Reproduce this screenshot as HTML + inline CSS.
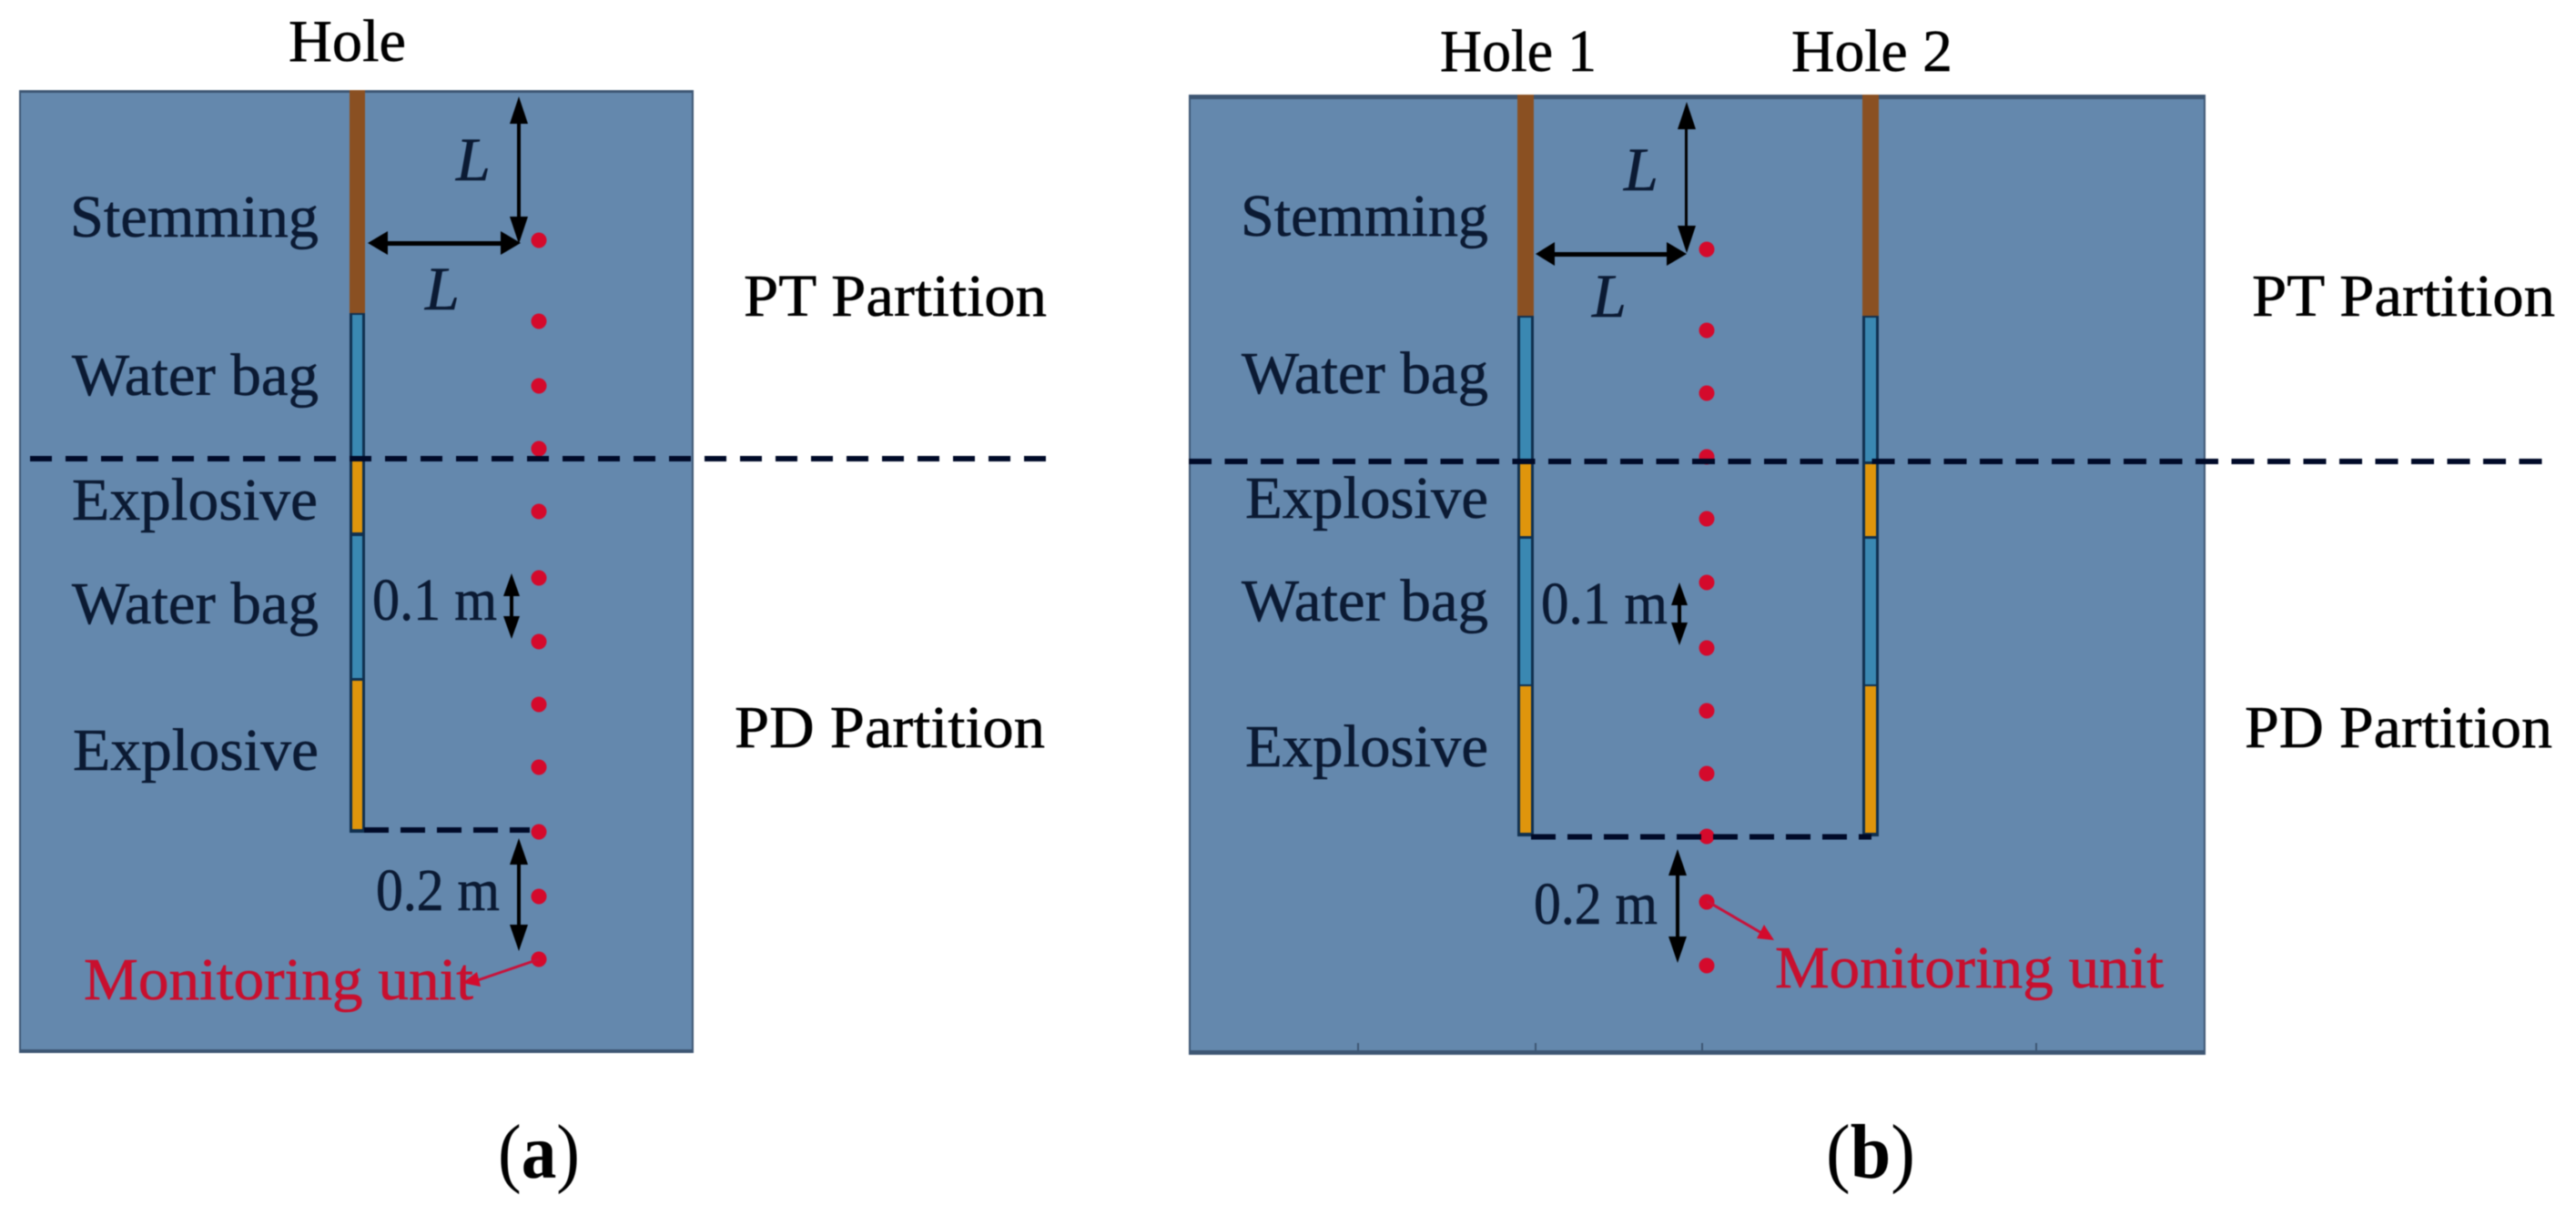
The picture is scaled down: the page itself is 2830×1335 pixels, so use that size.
<!DOCTYPE html>
<html><head><meta charset="utf-8"><style>html,body{margin:0;padding:0;background:#fff}svg{display:block;filter:blur(.6px)}
text{font-family:"Liberation Serif",serif;font-size:66px;fill:#0b1a33;stroke:#0b1a33;stroke-width:.6}
.k{fill:#000;stroke:#000}.r{fill:#c80f2e;stroke:#c80f2e}.i{font-style:italic;font-size:68px}.h{font-size:85px;fill:#000;stroke:none}</style></head><body>
<svg width="2830" height="1335" viewBox="0 0 2830 1335" xmlns="http://www.w3.org/2000/svg">
<!-- panel a -->
<rect x="21" y="99" width="741" height="1058" fill="#6488ad"/>
<rect x="21" y="99" width="741" height="3" fill="#3d5673"/>
<rect x="21" y="99" width="2" height="1058" fill="#3d5673"/>
<rect x="760" y="99" width="2" height="1058" fill="#3d5673"/>
<rect x="21" y="1153" width="741" height="4" fill="#3d5673"/>
<g>
<rect x="384" y="99" width="17" height="816" fill="#10304f"/>
<rect x="384" y="99" width="17" height="245" fill="#8a5022"/>
<rect x="387" y="346" width="11" height="159" fill="#3a88b2"/>
<rect x="387" y="507" width="11" height="78" fill="#df950c"/>
<rect x="387" y="589" width="11" height="156" fill="#3a88b2"/>
<rect x="387" y="748" width="11" height="163" fill="#df950c"/>
</g>
<!-- panel b -->
<rect x="1306" y="104" width="1117" height="1055" fill="#6488ad"/>
<rect x="1306" y="104" width="1117" height="5" fill="#3d5673"/>
<rect x="1306" y="104" width="2" height="1055" fill="#3d5673"/>
<rect x="2421" y="104" width="2" height="1055" fill="#3d5673"/>
<rect x="1306" y="1154" width="1117" height="5" fill="#3d5673"/>
<g stroke="#3d5673" stroke-width="2"><path d="M1492 1146V1155M1687 1146V1155M1870 1146V1155M2237 1146V1155"/></g>
<g>
<rect x="1667" y="104" width="18" height="815" fill="#10304f"/>
<rect x="1667" y="104" width="18" height="243" fill="#8a5022"/>
<rect x="1670" y="349" width="12" height="158" fill="#3a88b2"/>
<rect x="1670" y="510" width="12" height="79" fill="#df950c"/>
<rect x="1670" y="592" width="12" height="160" fill="#3a88b2"/>
<rect x="1670" y="754" width="12" height="161" fill="#df950c"/>
</g>
<g>
<rect x="2046" y="104" width="18" height="815" fill="#10304f"/>
<rect x="2046" y="104" width="18" height="243" fill="#8a5022"/>
<rect x="2049" y="349" width="12" height="158" fill="#3a88b2"/>
<rect x="2049" y="510" width="12" height="79" fill="#df950c"/>
<rect x="2049" y="592" width="12" height="160" fill="#3a88b2"/>
<rect x="2049" y="754" width="12" height="161" fill="#df950c"/>
</g>
<!-- dots -->
<g fill="#d40a2c">
<circle cx="592" cy="264" r="8.5"/><circle cx="592" cy="353" r="8.5"/><circle cx="592" cy="424" r="8.5"/><circle cx="592" cy="493" r="8.5"/><circle cx="592" cy="562" r="8.5"/><circle cx="592" cy="635" r="8.5"/><circle cx="592" cy="705" r="8.5"/><circle cx="592" cy="774" r="8.5"/><circle cx="592" cy="843" r="8.5"/><circle cx="592" cy="914" r="8.5"/><circle cx="592" cy="985" r="8.5"/><circle cx="592" cy="1054" r="8.5"/>
<circle cx="1875" cy="274" r="8.5"/><circle cx="1875" cy="363" r="8.5"/><circle cx="1875" cy="432" r="8.5"/><circle cx="1875" cy="502" r="8.5"/><circle cx="1875" cy="570" r="8.5"/><circle cx="1875" cy="640" r="8.5"/><circle cx="1875" cy="712" r="8.5"/><circle cx="1875" cy="781" r="8.5"/><circle cx="1875" cy="850" r="8.5"/><circle cx="1875" cy="919" r="8.5"/><circle cx="1875" cy="991" r="8.5"/><circle cx="1875" cy="1061" r="8.5"/>
</g>
<!-- dashed -->
<g stroke="#000a28" stroke-width="6" fill="none" stroke-dasharray="24 15">
<path d="M33 504H1158"/>
<path d="M400 912H582" stroke-dasharray="27 13"/>
<path d="M1306 507H2804" stroke-dasharray="25 14.5"/>
<path d="M1682 919.5H2056" stroke-dasharray="27 13"/>
</g>
<!-- arrows -->
<g fill="#000" stroke="none">
<rect x="568" y="130" width="4" height="120"/><path d="M570 106L560 136L580 136Z"/><path d="M570 268L560 238L580 238Z"/>
<rect x="425" y="265" width="130" height="5"/><path d="M404 267L426 254L426 280Z"/><path d="M572 267L550 254L550 280Z"/>
<rect x="560" y="650" width="4" height="35"/><path d="M562 630L553 655L571 655Z"/><path d="M562 702L553 677L571 677Z"/>
<rect x="568" y="940" width="4" height="90"/><path d="M570 921L560 950L580 950Z"/><path d="M570 1045L560 1016L580 1016Z"/>
<rect x="1851" y="135" width="3" height="125"/><path d="M1853 112L1843 142L1863 142Z"/><path d="M1853 278L1843 248L1863 248Z"/>
<rect x="1705" y="277" width="130" height="5"/><path d="M1687 279L1708 266L1708 292Z"/><path d="M1853 279L1831 266L1831 292Z"/>
<rect x="1843" y="660" width="4" height="30"/><path d="M1845 640L1836 665L1854 665Z"/><path d="M1845 709L1836 684L1854 684Z"/>
<rect x="1841" y="950" width="4" height="90"/><path d="M1843 933L1833 962L1853 962Z"/><path d="M1843 1058L1833 1029L1853 1029Z"/>
</g>
<!-- red arrows -->
<g stroke="#c8123a" stroke-width="3" fill="#d40a2c">
<path d="M592 1054L522 1078"/><path d="M508 1080L524 1068L528 1084Z" stroke="none"/>
<path d="M1875 990L1935 1025"/><path d="M1949 1033L1930 1031L1938 1016Z" stroke="none"/>
</g>
<!-- text a -->
<text class="k" x="317" y="67" textLength="129" lengthAdjust="spacingAndGlyphs">Hole</text>
<text x="77" y="260" textLength="273" lengthAdjust="spacingAndGlyphs">Stemming</text>
<text x="79" y="434" textLength="271" lengthAdjust="spacingAndGlyphs">Water bag</text>
<text x="79" y="571" textLength="270" lengthAdjust="spacingAndGlyphs">Explosive</text>
<text x="79" y="685" textLength="271" lengthAdjust="spacingAndGlyphs">Water bag</text>
<text x="80" y="846" textLength="270" lengthAdjust="spacingAndGlyphs">Explosive</text>
<text class="i" x="501" y="198">L</text>
<text class="i" x="467" y="340">L</text>
<text x="409" y="681" textLength="137" lengthAdjust="spacingAndGlyphs">0.1 m</text>
<text x="413" y="1000" textLength="136" lengthAdjust="spacingAndGlyphs">0.2 m</text>
<text class="r" x="92" y="1098" textLength="428" lengthAdjust="spacingAndGlyphs">Monitoring unit</text>
<text class="k" x="817" y="347" textLength="333" lengthAdjust="spacingAndGlyphs">PT Partition</text>
<text class="k" x="807" y="821" textLength="341" lengthAdjust="spacingAndGlyphs">PD Partition</text>
<text class="h" x="547" y="1294" textLength="90" lengthAdjust="spacingAndGlyphs">(<tspan font-weight="bold">a</tspan>)</text>
<!-- text b -->
<text class="k" x="1582" y="78" textLength="172" lengthAdjust="spacingAndGlyphs">Hole 1</text>
<text class="k" x="1968" y="78" textLength="177" lengthAdjust="spacingAndGlyphs">Hole 2</text>
<text x="1363" y="259" textLength="272" lengthAdjust="spacingAndGlyphs">Stemming</text>
<text x="1364" y="432" textLength="271" lengthAdjust="spacingAndGlyphs">Water bag</text>
<text x="1368" y="569" textLength="267" lengthAdjust="spacingAndGlyphs">Explosive</text>
<text x="1364" y="682" textLength="271" lengthAdjust="spacingAndGlyphs">Water bag</text>
<text x="1368" y="842" textLength="267" lengthAdjust="spacingAndGlyphs">Explosive</text>
<text class="i" x="1784" y="209">L</text>
<text class="i" x="1749" y="348">L</text>
<text x="1693" y="685" textLength="139" lengthAdjust="spacingAndGlyphs">0.1 m</text>
<text x="1685" y="1015" textLength="136" lengthAdjust="spacingAndGlyphs">0.2 m</text>
<text class="r" x="1950" y="1085" textLength="427" lengthAdjust="spacingAndGlyphs">Monitoring unit</text>
<text class="k" x="2474" y="347" textLength="333" lengthAdjust="spacingAndGlyphs">PT Partition</text>
<text class="k" x="2466" y="821" textLength="338" lengthAdjust="spacingAndGlyphs">PD Partition</text>
<text class="h" x="2006" y="1294" textLength="98" lengthAdjust="spacingAndGlyphs">(<tspan font-weight="bold">b</tspan>)</text>
</svg>
</body></html>
